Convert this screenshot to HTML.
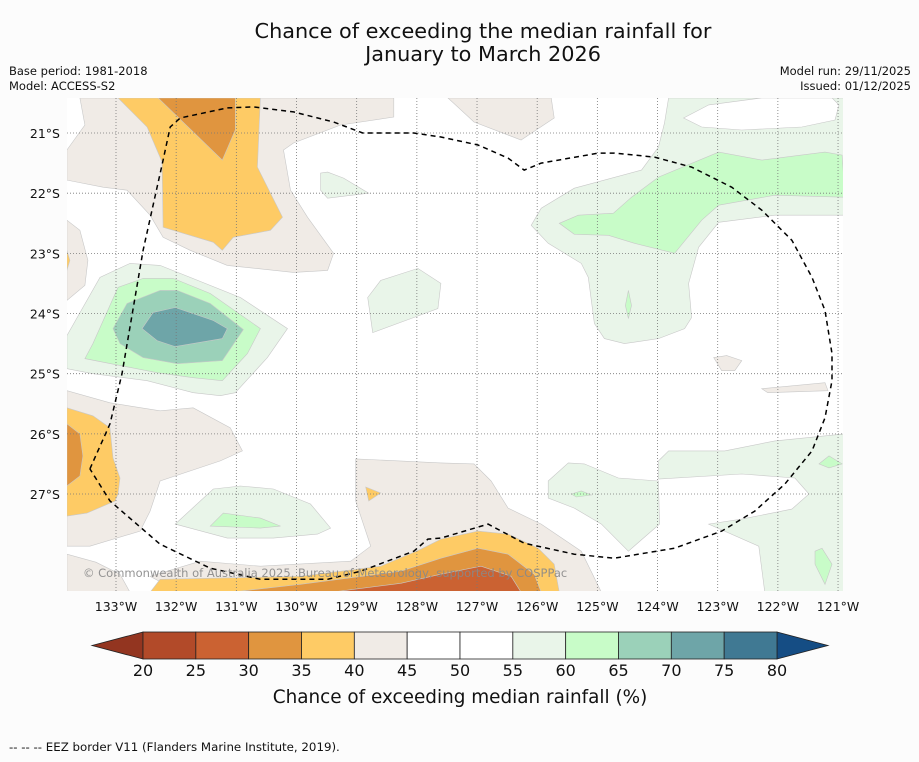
<!DOCTYPE html>
<html><head><meta charset="utf-8">
<style>
html,body{margin:0;padding:0;background:#fcfcfc;}
body{width:919px;height:758px;overflow:hidden;font-family:"DejaVu Sans","Liberation Sans",sans-serif;}
</style></head>
<body>
<svg id="fig" width="919" height="758" xmlns="http://www.w3.org/2000/svg" font-family="DejaVu Sans, Liberation Sans, sans-serif">
<rect width="919" height="758" fill="#fcfcfc"/>
<text x="483" y="38" text-anchor="middle" font-size="20.8" fill="#111">Chance of exceeding the median rainfall for</text>
<text x="483" y="61" text-anchor="middle" font-size="20.8" fill="#111">January to March 2026</text>
<text x="9" y="75" font-size="11.5" fill="#111">Base period: 1981-2018</text>
<text x="9" y="90" font-size="11.5" fill="#111">Model: ACCESS-S2</text>
<text x="911" y="75" text-anchor="end" font-size="11.5" fill="#111">Model run: 29/11/2025</text>
<text x="911" y="90" text-anchor="end" font-size="11.5" fill="#111">Issued: 01/12/2025</text>
<defs><clipPath id="mapclip"><rect x="67" y="98" width="776" height="493"/></clipPath></defs>
<g id="map" clip-path="url(#mapclip)">
<rect x="67" y="98" width="776" height="493" fill="#ffffff"/>
<g id="fills"></g><g id="grid"></g><g id="eez"></g>
</g>
<text x="83" y="577" font-size="11.5" fill="#888" fill-opacity="0.9">© Commonwealth of Australia 2025, Bureau of Meteorology, supported by COSPPac</text>
<g id="axes"></g>
<g id="cbar"></g>
<text x="460" y="703" text-anchor="middle" font-size="18.4" fill="#111">Chance of exceeding median rainfall (%)</text>
<text x="9" y="751" font-size="11.8" fill="#111">--  --  -- EEZ border V11 (Flanders Marine Institute, 2019).</text>
</svg>
<script>
// axis ticks (degrees)
const lonTicks = [133,132,131,130,129,128,127,126,125,124,123,122,121];
const latTicks = [21,22,23,24,25,26,27];
// colour scale
const cbLevels = [20,25,30,35,40,45,50,55,60,65,70,75,80];
const cbColors = ["#b24a29","#cb6232","#e0953f","#fecb65","#f0ebe6","#ffffff","#ffffff","#e9f5e9","#c8fcc8","#9bd1b9","#6ea5a8","#407993"];
const cbUnder = "#933520", cbOver = "#154d84";
// contour regions: [lower bound %, flat list of arc-minute offsets (east of 133°W, south of 21°S)]
const regionLevels = [40,35,30,40,35,55,60,65,70,40,35,30,55,60,40,35,30,25,35,40,55,60,60,40,40,55,60,60,55,60,55,55,40];
const regionPoints = [
 [-36,-35,277,-35,277,-16,224,-8,177,10,167,17,174,57,191,84,217,120,211,137,177,139,111,132,74,117,47,104,34,82,11,57,-13,54,-49,47,-49,17,-31,-8],
 [2,-35,144,-35,141,34,166,84,154,97,117,104,106,117,97,109,47,94,46,29,31,-6],
 [42,-35,119,-35,119,-3,106,27],
 [-49,87,-36,97,-28,127,-31,152,-49,167],
 [-49,117,-46,127,-49,137],
 [-49,202,-16,144,14,130,44,132,74,144,124,164,171,195,151,224,119,259,104,262,77,259,31,247,-23,240,-49,235],
 [-31,225,-23,210,2,154,27,145,57,145,94,160,144,195,131,220,106,247,77,244,41,239],
 [-3,195,11,170,44,157,61,157,94,170,127,196,106,227,61,230,27,224,4,210],
 [26,195,37,179,59,174,97,187,111,195,106,205,59,213,41,207],
 [-49,257,-6,269,44,277,77,274,114,294,126,317,104,327,44,347,34,377,24,397,-26,412,-49,412],
 [-49,274,-23,282,-6,294,-3,324,4,344,2,360,-1,367,-29,379,-49,382],
 [-49,290,-36,300,-33,322,-36,342,-49,352],
 [59,390,97,355,124,352,157,355,194,370,214,394,201,400,157,404,111,404],
 [94,392,107,379,144,384,164,392,144,394],
 [239,325,324,329,357,330,374,347,391,374,424,390,464,417,484,458,64,458,34,442,84,427,144,432,234,427,254,412,239,367],
 [34,458,44,445,184,442,264,432,304,415,324,405,361,397,391,400,421,414,437,430,442,458],
 [114,458,184,450,284,437,324,424,361,414,391,420,417,440,424,458],
 [214,458,284,449,324,440,364,432,394,442,404,458],
 [249,353,264,359,252,367],
 [331,-35,434,-35,437,-15,404,7,357,-11],
 [551,-35,727,-35,727,82,657,82,601,89,581,114,571,150,574,184,567,195,541,205,507,210,487,205,477,190,471,144,464,130,431,110,414,92,424,75,457,55,524,37,541,14,547,-10],
 [442,90,461,82,496,80,514,64,541,44,601,19,644,27,707,19,724,22,727,64,657,62,601,72,584,87,557,120,517,110,491,102,457,101],
 [511,157,514,172,511,185,508,172],
 [596,224,609,222,624,227,617,237,604,237],
 [644,255,707,249,710,257,650,259],
 [541,327,551,317,607,317,657,307,727,300,727,458,647,458,641,412,591,390,624,385,674,375,691,360,677,344,624,340,541,345],
 [701,330,711,322,724,330,711,334],
 [697,417,704,414,714,430,707,450,697,430],
 [431,347,451,329,467,330,501,344,541,347,542,390,511,417,484,390,457,374,431,364],
 [454,360,464,357,474,361,459,363],
 [251,164,264,147,301,135,324,150,321,175,297,184,256,199],
 [204,40,211,39,227,45,252,60,211,65,204,57],
 [-49,420,-20,428,4,440,14,458,-49,458]
];
// white (45-55) hole inside the northern green band
const holePoints = [566,-15,591,-28,644,-35,714,-35,721,-28,717,-13,684,-6,624,-3,584,-6];
// EEZ boundary (arc-minute offsets)
const eezPoints = [-26,335,-6,290,6,240,27,117,47,27,54,-6,64,-15,111,-25,137,-26,177,-21,217,-11,246,0,297,0,324,4,361,12,391,25,407,37,424,30,481,20,497,20,537,24,574,34,614,54,644,77,674,107,694,144,707,177,714,220,714,247,707,284,694,317,667,350,637,377,604,397,557,414,497,424,457,420,407,409,371,390,324,404,311,405,297,417,244,437,211,445,144,445,94,434,44,410,-6,367,-26,335];

const NS = "http://www.w3.org/2000/svg";
const X0 = 116, PXDEG = 60.17, Y0 = 133;
function xScale(lonW){ return X0 + (133 - lonW) * PXDEG; }
function yScale(latS){ return Y0 + (latS - 21) * PXDEG; }
function pt(list,i){ return [xScale(133 - list[i]/60), yScale(21 + list[i+1]/60)]; }
function pathFrom(list, close){
  let d = "";
  for (let i=0;i<list.length;i+=2){ const p = pt(list,i); d += (i?"L":"M") + p[0].toFixed(1) + "," + p[1].toFixed(1); }
  return d + (close ? "Z" : "");
}
function colorFor(level){ return cbColors[cbLevels.indexOf(level)]; }
function mk(tag, attrs, parent){ const e = document.createElementNS(NS, tag); for (const k in attrs) e.setAttribute(k, attrs[k]); parent.appendChild(e); return e; }

const fills = document.getElementById("fills");
regionPoints.forEach((pts, i) => {
  let d = pathFrom(pts, true);
  if (i === 20) d += pathFrom(holePoints, true);
  const p = mk("path", {d: d, fill: colorFor(regionLevels[i]), stroke: "#c8c8c8", "stroke-width": "0.6", "fill-rule": "evenodd"}, fills);
  
  
});

const grid = document.getElementById("grid");
const axes = document.getElementById("axes");
lonTicks.forEach(l => {
  const x = xScale(l);
  const ln = mk("line", {x1:x, x2:x, y1:98, y2:591, stroke:"#777", "stroke-width":"0.8", "stroke-dasharray":"1,2"}, grid);
  
  
  const t = mk("text", {x:x, y:611, "text-anchor":"middle", "font-size":"12.5", fill:"#111"}, axes);
  t.textContent = l + "°W";
  
  
});
latTicks.forEach(l => {
  const y = yScale(l);
  const ln = mk("line", {x1:67, x2:843, y1:y, y2:y, stroke:"#777", "stroke-width":"0.8", "stroke-dasharray":"1,2"}, grid);
  
  
  const t = mk("text", {x:60, y:y+5, "text-anchor":"end", "font-size":"12.5", fill:"#111"}, axes);
  t.textContent = l + "°S";
  
  
});

const eez = mk("path", {d: pathFrom(eezPoints, false), fill:"none", stroke:"#000", "stroke-width":"1.5", "stroke-dasharray":"5,4"}, document.getElementById("eez"));



// colorbar
const cb = document.getElementById("cbar");
const CBX0 = 143, CBW = (777-143)/12, CBY = 632, CBH = 27;
function cbX(v){ return CBX0 + (v - cbLevels[0]) / 5 * CBW; }
const under = mk("polygon", {points: `92,${CBY+CBH/2} ${CBX0},${CBY} ${CBX0},${CBY+CBH}`, fill: cbUnder, stroke:"#222", "stroke-width":"0.8"}, cb);


const over = mk("polygon", {points: `828,${CBY+CBH/2} ${cbX(80)},${CBY} ${cbX(80)},${CBY+CBH}`, fill: cbOver, stroke:"#222", "stroke-width":"0.8"}, cb);


cbColors.forEach((c, i) => {
  const r = mk("rect", {x: cbX(cbLevels[i]), y: CBY, width: CBW, height: CBH, fill: c, stroke:"#222", "stroke-width":"0.8"}, cb);
  
  
});
cbLevels.forEach(v => {
  const t = mk("text", {x: cbX(v), y: 676, "text-anchor":"middle", "font-size":"16", fill:"#111"}, cb);
  t.textContent = v;
  
  
});
</script>
</body></html>
